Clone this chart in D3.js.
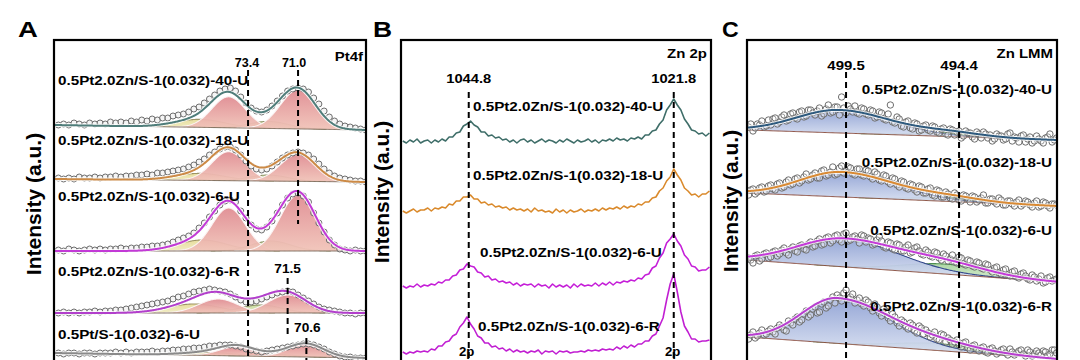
<!DOCTYPE html>
<html><head><meta charset="utf-8">
<script src="https://cdn.jsdelivr.net/npm/d3@7"></script>
<style>
body{margin:0;background:#fff;}
svg{display:block;}
text{font-family:"Liberation Sans",Arial,Helvetica,sans-serif;font-weight:bold;fill:#000;}
</style>
</head><body>
<svg id="fig" width="1080" height="360"></svg>
<script>
// ===================== DATA =====================
const sampleNames = ["0.5Pt2.0Zn/S-1(0.032)-40-U","0.5Pt2.0Zn/S-1(0.032)-18-U","0.5Pt2.0Zn/S-1(0.032)-6-U","0.5Pt2.0Zn/S-1(0.032)-6-R"];
const ptOnlyName = "0.5Pt/S-1(0.032)-6-U";

// ---- Panel A : Pt 4f (binding energy, eV) ----
const aStart = 82.5, aStep = 0.25;
const aCounts40U = [1,2,1,3,2,1,3,2,3,2,4,3,4,3,5,4,6,5,7,6,8,8,10,11,12,14,17,19,23,27,31,35,37,38,35,29,23,18,15,14,16,20,25,30,35,37,38,37,34,28,22,15,9,5,2,0,-1,-2,-3,-4];
const aCounts18U = [2,1,2,1,3,2,2,3,2,3,3,4,3,4,4,5,5,6,5,7,7,8,9,10,11,13,15,18,21,25,28,31,33,33,30,25,19,14,11,10,11,14,18,22,25,27,28,27,25,21,16,11,7,4,2,1,0,-1,-1,-2];
const aCounts6U  = [1,0,2,1,0,1,2,1,2,1,2,2,3,2,3,3,4,4,5,5,6,7,9,11,13,15,18,23,28,34,40,46,50,51,49,40,33,26,22,21,24,30,38,46,53,57,58,55,49,38,28,19,11,6,2,1,0,1,0,0];
const aCounts6R  = [0,1,0,1,0,1,1,2,1,2,2,3,3,4,5,6,7,8,9,10,11,12,14,16,17,19,21,22,23,24,23,22,21,19,16,13,11,11,12,14,16,18,20,21,22,21,18,15,12,9,6,4,3,2,1,0,0,-1,0,0];
const aCountsPt  = [2,1,2,2,1,2,2,1,2,2,2,3,2,3,2,3,3,3,4,3,4,4,5,5,6,6,7,7,8,9,9,10,10,10,9,8,6,5,4,3,4,5,6,7,8,9,10,11,11,10,8,6,3,1,-1,-2,-2,-3,-3,-3];
const aOffsets = [254, 200, 129, 67, 25];
const aBgLeft  = [1, 1, 0, 0, 2];
const aBgRight = [-4, -2, 0, 0, -3];
// fitted components: [centre eV, height, FWHM]  (Pt0 4f7/2, Pt0 4f5/2, Pt2+ 4f7/2, Pt2+ 4f5/2)
const aFit40U = [[71.0,39,2.0],[74.33,31,1.9],[72.4,7,2.2],[75.7,8,2.8]];
const aFit18U = [[71.0,27,2.0],[74.33,29,1.9],[72.4,6,2.2],[75.7,7,2.8]];
const aFit6U  = [[71.0,56,2.0],[74.33,43,1.9],[72.3,10,2.2],[75.6,11,2.8]];
const aFit6R  = [[71.5,18,2.2],[74.83,14,2.2],[72.8,8,2.4],[76.0,9,3.0]];
const aFitPt  = [[70.6,13,2.0],[73.93,9,2.0],[72.0,2,2.2],[75.3,3,3.0]];
const aRefLines = [73.4, 71.0, 71.5, 70.6];

// ---- Panel B : Zn 2p ----
const bStart = 1052.2, bStep = 0.4;
const bCounts40U = [1,-1,2,0,3,-1,1,2,-1,2,0, 3,1,5,5,9,10,16,18,21,17,15,10,10,6,7,4,5,2, 3,0,2,-1,2,3,0,2,-1,1,3,0,2,1,-1,2,0,3,1,-1,2,0,1,3,0,2,-1,2,1,3,1,4,2,3,1,4,3, 5,3,7,7,11,12,18,22,32,37,43,37,32,23,18,12,11,8,9,6,9];
const bCounts18U = [1,-1,1,3,0,2,2,4,1,4,3, 5,4,8,7,11,11,15,15,17,13,13,9,10,7,8,5,6,4, 5,2,4,2,3,1,3,0,4,1,2,0,1,-1,3,0,2,-1,2,0,1,3,0,2,1,3,1,4,2,4,3,5,3,6,4,6,5, 8,7,10,10,14,15,21,24,31,35,43,37,32,24,21,17,18,15,18,18,21];
const bCounts6U  = [1,-1,1,0,3,0,2,1,3,2,5, 4,7,7,11,12,17,18,23,21,20,15,14,10,11,7,8,5,6, 4,5,2,4,1,3,2,3,0,3,1,2,-1,3,0,2,0,2,-1,3,0,3,1,2,1,4,1,4,2,5,2,5,4,6,5,7,6, 9,8,12,13,19,21,29,34,44,48,53,46,41,32,28,21,20,16,17,17,20];
const bCounts6R  = [1,-1,1,0,2,1,2,1,4,3,7, 7,11,12,17,19,26,30,36,29,24,17,15,10,10,6,7,4,5, 2,4,1,3,1,2,0,2,1,3,-1,2,1,2,-1,2,1,2,0,1,1,2,1,3,2,3,2,4,3,4,3,6,4,7,5,8,6, 9,9,12,12,17,19,27,35,53,69,79,61,41,27,21,14,14,11,12,12,13];
const bOffsets = [238, 168, 93, 27];
const bRefLines = [1044.8, 1021.8];

// ---- Panel C : Zn LMM (binding energy, eV) ----
const cStart = 503.9, cStep = 0.1;
const cCounts40U = [3,6,-1,2,6,5,9,3,4,10, 5,11,12,6,8,13,15,9,10,16, 17,12,11,18,19,13,14,20,20,17, 15,19,22,14,16,21,25,17,18,23,
  23,15,33,22,17,24,21,18,24,17, 16,22,21,16,15,20,19,12,13,18, 17,11,10,16,25,8,7,13,11,4, 3,8,9,2,1,7,6,-1,0,4,
  5,0,-1,4,3,-2,-3,1,2,-4, -5,1,0,-5,-2,-1,-8,-6,-1,-3, -3,-7,-9,-2,-4,-8,-2,-4,-8,-5, -11,-9,-4,-6,-6,-10,-9,-4,-3,-11,
  -7,-8,-12,-6,-5,-12,-9,-7,-13,-11, -6,-9,-11,-13,-8,-7,-4,-12,-10,-8];
const cCounts18U = [-2,3,4,-1,1,5,6,1,2,7, 8,4,3,9,10,5,6,11,13,8, 9,14,15,10,12,16,19,13,14,18, 20,15,15,22,23,17,18,21,26,18,
  19,25,27,20,22,26,25,19,18,24, 24,18,17,23,22,16,14,21,19,13, 12,18,17,11,9,15,14,8,6,12, 11,5,4,9,8,3,1,7,6,0,
  0,4,5,-2,-3,3,2,-4,-4,1, -1,-5,-6,0,-2,-7,-8,-2,-3,-6, -9,-3,-4,-9,-7,-5,-2,-10,-10,-6, -6,-9,-11,-5,-7,-12,-12,-8,-8,-11,
  -13,-9,-7,-13,-11,-8,-9,-12,-14,-10, -8,-14,-13,-9,-10,-13,-15,-11,-11,-12];
const cCounts6U  = [2,0,-3,4,5,-1,1,6,7,2, 3,8,9,4,6,10,12,7,5,11, 13,9,8,14,15,11,10,16,18,13, 14,19,21,15,16,22,23,17,19,24,
  25,20,18,26,27,19,20,23,24,21, 17,25,24,18,22,21,15,16,20,23, 19,13,12,18,17,11,10,16,15,9, 9,13,15,7,8,12,13,9,6,5,
  10,8,4,3,8,7,2,0,6,4, -1,1,5,-2,-3,3,2,-4,-5,0, -1,-6,-7,-2,-3,-8,-9,-4,-5,-10, -12,-8,-7,-13,-14,-10,-9,-15,-16,-12,
  -11,-17,-18,-14,-13,-16,-19,-20,-15,-17, -21,-19,-16,-23,-22,-18,-17,-21,-20,-19];
const cCounts6R  = [-2,2,5,-1,1,4,7,2,3,6, 8,5,3,9,12,10,7,6,16,14, 12,18,20,15,17,23,26,20,22,28, 30,24,25,33,35,29,31,37,40,34,
  42,39,36,44,47,38,40,43,34,37, 39,33,31,37,35,29,26,33,30,24, 21,28,26,19,16,23,20,14,11,17, 15,10,8,14,12,6,4,11,9,3,
  7,4,0,2,5,-2,-3,3,2,-5, -1,-3,-7,-5,-3,-8,-10,-6,-5,-11, -13,-9,-8,-12,-14,-11,-10,-15,-16,-12, -11,-14,-17,-15,-13,-12,-16,-18,-12,-15,
  -18,-16,-14,-13,-17,-19,-13,-15,-19,-17, -14,-16,-18,-14,-15,-19,-17,-13,-13,-16];
const cOffsets = [250, 187, 120, 43];
const cBgLeft  = [0, 0, 0, 0];
const cBgRight = [-10, -13, -22, -22];
// components: [centre, height, FWHM high-BE side, FWHM low-BE side]
const cFit40U = [[499.8,23,4.6,5.4],[494.8,4,3.5,3.5]];
const cFit18U = [[499.7,25,4.4,5.6],[494.8,4,3.5,3.5]];
const cFit6U  = [[499.6,28,5.0,5.8],[495.0,10,4.5,4.5]];
const cFit6R  = [[499.9,45,3.8,5.6],[495.3,7,4.5,4.5]];
const cRefLines = [499.5, 494.4];

// ===================== DRAWING =====================
const svg = d3.select("#fig");
const defs = svg.append("defs");
function grad(id, c0, c1){
  const g = defs.append("linearGradient").attr("id", id).attr("x1",0).attr("y1",0).attr("x2",0).attr("y2",1);
  g.append("stop").attr("offset","0%").attr("stop-color",c0);
  g.append("stop").attr("offset","100%").attr("stop-color",c1);
}
grad("gPink", "#e08d93", "#f1c4b9");
grad("gBlue", "#90a2d4", "#dde4f3");
grad("gGreen", "#a9d4a0", "#d7ecd0");
grad("gYel", "#e6dc98", "#f1ecc4");
grad("gYG", "#c6d99a", "#e3ecc6");

const yInt = d3.scaleLinear().domain([0, 340]).range([380, 40]);
const TOP = 40, BOT = 380;

function gauss(E, p){
  const w = E >= p[0] ? p[2] : (p[3] !== undefined ? p[3] : p[2]);
  const d = E - p[0];
  return p[1] * Math.exp(-4 * Math.LN2 * d * d / (w * w));
}
function makeClip(id, x0, x1){
  defs.append("clipPath").attr("id", id).append("rect")
    .attr("x", x0 + 1).attr("y", TOP + 1).attr("width", x1 - x0 - 2).attr("height", BOT - TOP);
}
function txt(x, y, s, size, anchor, stretch){
  const t = svg.append("text").attr("x", x).attr("y", y).attr("font-size", size)
    .attr("text-anchor", anchor || "start").text(s);
  if (stretch && stretch !== 1){
    const w = t.node().getComputedTextLength();
    t.attr("textLength", w * stretch).attr("lengthAdjust", "spacingAndGlyphs");
  }
  return t;
}
function frame(x0, x1){
  svg.append("rect").attr("x", x0).attr("y", TOP).attr("width", x1 - x0).attr("height", BOT - TOP + 20)
    .attr("fill", "none").attr("stroke", "#000").attr("stroke-width", 2.2);
}
function dashed(x, y0, y1){
  svg.append("line").attr("x1", x).attr("x2", x).attr("y1", y0).attr("y2", y1)
    .attr("stroke", "#000").attr("stroke-width", 2).attr("stroke-dasharray", "6,4");
}
function ylabel(x, yc){
  svg.append("text").attr("transform", `translate(${x},${yc}) rotate(-90)`)
    .attr("text-anchor", "middle").attr("font-size", 21).text("Intensity (a.u.)");
}

function drawFitSpectra(g, x, counts, fits, offsets, bgL, bgR, start, step, lineColors, compFill, compStroke, compOrder, baseColor, circleFill, rad){
  const D = x.domain();
  const Es = d3.range(D[0], D[1] - 0.001, -0.04);
  counts.forEach((vals, k) => {
    const off = offsets[k];
    const bg = E => bgL[k] + (bgR[k] - bgL[k]) * (D[0] - E) / (D[0] - D[1]);
    const fit = fits[k];
    compOrder.forEach(j => {
      const p = fit[j];
      const pts = Es.filter(E => gauss(E, p) > 0.08);
      if (!pts.length) return;
      g.append("path").datum(pts)
        .attr("d", d3.area().x(E => x(E)).y0(E => yInt(off + bg(E))).y1(E => yInt(off + bg(E) + gauss(E, p))))
        .attr("fill", compFill[j]).attr("opacity", 0.95);
      g.append("path").datum(pts)
        .attr("d", d3.line().x(E => x(E)).y(E => yInt(off + bg(E) + gauss(E, p))))
        .attr("fill", "none").attr("stroke", compStroke[j]).attr("stroke-width", 1.1);
    });
    g.append("path").datum(Es)
      .attr("d", d3.line().x(E => x(E)).y(E => yInt(off + bg(E))))
      .attr("fill", "none").attr("stroke", baseColor).attr("stroke-width", 1);
    const env = E => off + bg(E) + d3.sum(fit, p => gauss(E, p));
    g.append("g").selectAll("circle").data(vals).join("circle")
      .attr("cx", (v, i) => x(start - step * i))
      .attr("cy", v => yInt(off + v))
      .attr("r", rad)
      .attr("fill", circleFill)
      .attr("stroke", "#6e6e6e").attr("stroke-width", 1);
    g.append("path").datum(Es).attr("d", d3.line().x(E => x(E)).y(E => yInt(env(E))))
      .attr("fill", "none").attr("stroke", "#ffffff").attr("stroke-width", 4).attr("opacity", 0.8);
    g.append("path").datum(Es).attr("d", d3.line().x(E => x(E)).y(E => yInt(env(E))))
      .attr("fill", "none").attr("stroke", lineColors[k]).attr("stroke-width", 2);
  });
}

// ---------- Panel A ----------
const xA = d3.scaleLinear().domain([82.71, 67.74]).range([54, 366]);
makeClip("clipA", 54, 366);
const gA = svg.append("g").attr("clip-path", "url(#clipA)");
drawFitSpectra(gA, xA, [aCounts40U, aCounts18U, aCounts6U, aCounts6R, aCountsPt],
  [aFit40U, aFit18U, aFit6U, aFit6R, aFitPt], aOffsets, aBgLeft, aBgRight, aStart, aStep,
  ["#4f7d7a", "#cc8a46", "#c23ad6", "#b23fcc", "#8a8a8a"],
  ["url(#gPink)", "url(#gPink)", "url(#gYG)", "url(#gYel)"],
  ["#fbf3f3", "#fbf3f3", "#8e9468", "#9d9466"], [3, 2, 1, 0], "#7b6a5c", "rgba(236,236,236,0.5)", 3);
frame(54, 366);

// ---------- Panel B ----------
const xB = d3.scaleLinear().domain([1052.4, 1017.62]).range([401, 711]);
makeClip("clipB", 401, 711);
const gB = svg.append("g").attr("clip-path", "url(#clipB)");
const bCounts = [bCounts40U, bCounts18U, bCounts6U, bCounts6R];
const bLineColors = ["#3f6e69", "#da8a2c", "#c51fd8", "#c11fd2"];
bCounts.forEach((vals, k) => {
  gB.append("path").datum(vals)
    .attr("d", d3.line().x((v, i) => xB(bStart - bStep * i)).y(v => yInt(bOffsets[k] + v)))
    .attr("fill", "none").attr("stroke", bLineColors[k]).attr("stroke-width", 1.6).attr("stroke-linejoin", "round");
});
frame(401, 711);

// ---------- Panel C ----------
const xC = d3.scaleLinear().domain([503.97, 489.98]).range([747, 1057]);
makeClip("clipC", 747, 1057);
const gC = svg.append("g").attr("clip-path", "url(#clipC)");
drawFitSpectra(gC, xC, [cCounts40U, cCounts18U, cCounts6U, cCounts6R], [cFit40U, cFit18U, cFit6U, cFit6R],
  cOffsets, cBgLeft, cBgRight, cStart, cStep,
  ["#2e5a7e", "#d98a34", "#c43ad8", "#b83ed0"], ["url(#gBlue)", "url(#gGreen)"], ["#34498c", "#4f8f4f"],
  [1, 0], "#8a4a3a", "rgba(255,255,255,0.3)", 3.2);
frame(747, 1057);

// ---------- reference dashed lines ----------
dashed(xA(aRefLines[0]), 70, 380);
dashed(xA(aRefLines[1]), 70, 224);
dashed(xA(aRefLines[2]), 278, 334);
dashed(xA(aRefLines[3]), 338, 380);
bRefLines.forEach(v => dashed(xB(v), 92, 380));
cRefLines.forEach(v => dashed(xC(v), 72, 380));

// ---------- text ----------
txt(18, 37, "A", 22, "start", 1.25);
txt(373, 37, "B", 22, "start", 1.2);
txt(722, 37, "C", 22, "start", 1.05);
ylabel(41, 204);
ylabel(389, 192);
ylabel(738, 201);

txt(363, 61, "Pt4f", 13, "end", 1.15);
txt(707, 58, "Zn 2p", 13, "end", 1.15);
txt(1053, 58, "Zn LMM", 13, "end", 1.15);

txt(xA(aRefLines[0]) - 1, 67, "73.4", 12.5, "middle", 1.0);
txt(xA(aRefLines[1]) - 4, 67, "71.0", 12.5, "middle", 1.0);
txt(xA(aRefLines[2]), 273, "71.5", 13, "middle", 1.05);
txt(xA(aRefLines[3]) + 1, 332, "70.6", 13, "middle", 1.05);
txt(xB(bRefLines[0]), 83, "1044.8", 13, "middle", 1.13);
txt(xB(bRefLines[1]), 83, "1021.8", 13, "middle", 1.13);
txt(xC(cRefLines[0]), 70, "499.5", 13, "middle", 1.15);
txt(xC(cRefLines[1]), 70, "494.4", 13, "middle", 1.15);
txt(xB(bRefLines[0]) - 2, 356, "2p", 12, "middle", 1.1);
txt(xB(bRefLines[1]) - 1, 356, "2p", 12, "middle", 1.1);

const LS = 1.17;
const aLabelY = [85, 145, 201, 276];
sampleNames.forEach((s, k) => txt(58, aLabelY[k], s, 13, "start", LS));
txt(58, 339, ptOnlyName, 13, "start", LS);
const bLabelX = [473, 473, 480, 478], bLabelY = [111, 180, 257, 331];
sampleNames.forEach((s, k) => txt(bLabelX[k], bLabelY[k], s, 13, "start", LS));
const cLabelY = [94, 167, 235, 311];
sampleNames.forEach((s, k) => txt(1052, cLabelY[k], s, 13, "end", LS));
</script>
</body></html>
